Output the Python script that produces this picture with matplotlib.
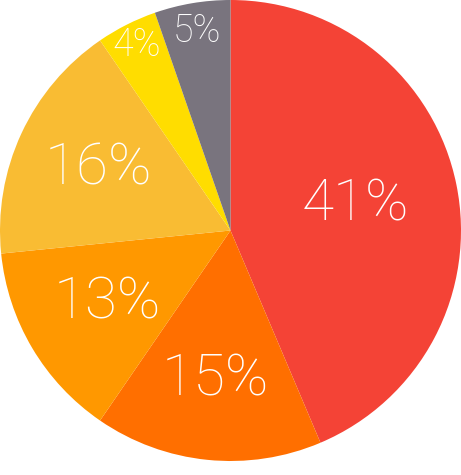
import numpy as np
import matplotlib
matplotlib.use("Agg")
import matplotlib.pyplot as plt

labels = ["41%", "15%", "13%", "16%", "4%", "5%"]
values = [41, 15, 13, 16, 4, 5]
colors = ["#F44336", "#FF6F00", "#FF9800", "#F9BC33", "#FFDD00", "#79747E"]

# label distance from centre (fraction of radius) and font size
label_r = [0.555, 0.65, 0.62, 0.63, 0.90, 0.875]
label_size = [42, 42, 42, 42, 27, 27]

fig = plt.figure(figsize=(4.61, 4.75), dpi=100)
ax = fig.add_axes([0, 14 / 475, 1, 461 / 475])

wedges, _ = ax.pie(values, colors=colors, startangle=90, counterclock=False,
                   radius=1, wedgeprops=dict(linewidth=0))

for w, lab, r, fs in zip(wedges, labels, label_r, label_size):
    mid = np.deg2rad((w.theta1 + w.theta2) / 2)
    ax.text(r * np.cos(mid), r * np.sin(mid), lab, ha="center", va="center",
            color="white", fontsize=fs, family="Roboto", fontweight="light")

ax.set_xlim(-1, 1)
ax.set_ylim(-1, 1)
ax.set_aspect("equal")
ax.axis("off")

fig.savefig("out.png", dpi=100)
